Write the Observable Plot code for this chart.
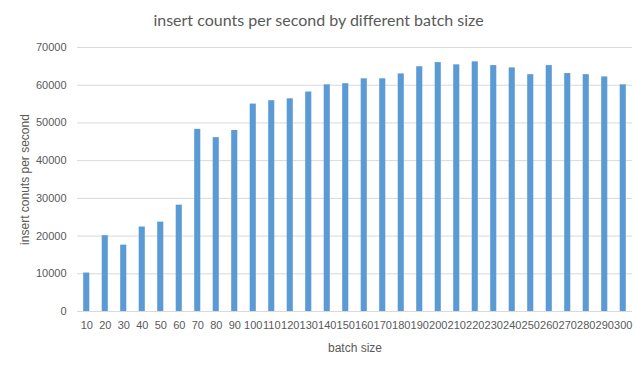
<!DOCTYPE html>
<html><head><meta charset="utf-8">
<script src="https://cdn.jsdelivr.net/npm/d3@7"></script>
<script src="https://cdn.jsdelivr.net/npm/@observablehq/plot@0.6"></script>
<style>
body{margin:0;background:#fff;width:637px;height:366px;overflow:hidden;font-family:"Liberation Sans",sans-serif;}
#title{height:38px;line-height:40px;text-align:center;font-size:16px;color:#595959;font-family:"Lato",sans-serif;}
g[aria-label="x-axis label"] text, g[aria-label="y-axis label"] text{font-size:12px;}
</style></head><body>
<div id="title">insert counts per second by different batch size</div>
<div id="chart"></div>
<script>
const batchSizes = [10,20,30,40,50,60,70,80,90,100,110,120,130,140,150,160,170,180,190,200,210,220,230,240,250,260,270,280,290,300];
const insertCounts = [10200,20100,17600,22400,23700,28200,48300,46100,48000,55000,55900,56400,58200,60100,60400,61700,61700,63000,64900,66000,65400,66200,65200,64600,62800,65200,63100,62800,62200,60100];
const yTicks = [0,10000,20000,30000,40000,50000,60000,70000];
const data = batchSizes.map((b,i)=>({batch:b, count:insertCounts[i]}));
const chart = Plot.plot({
  width:637, height:328,
  marginLeft:77, marginRight:5, marginTop:9, marginBottom:55,
  style:{fontFamily:"Liberation Sans, sans-serif", fontSize:"11px", color:"#595959", background:"#fff"},
  x:{domain:batchSizes, padding:0, round:false, label:"batch size", labelAnchor:"center", labelOffset:40, tickSize:0, tickPadding:10},
  y:{domain:[0,70000], ticks:yTicks, label:"insert conuts per second", labelAnchor:"center", labelOffset:57, tickSize:0, tickPadding:11, tickFormat:d=>String(d), labelArrow:"none"},
  marks:[
    Plot.gridY(yTicks,{stroke:"#d9d9d9", strokeOpacity:1}),
    Plot.barY(data,{x:"batch", y:"count", fill:"#5b9bd5", insetLeft:6.2, insetRight:6.2}),
    Plot.ruleY([0],{stroke:"#d9d9d9"})
  ]
});
document.getElementById("chart").appendChild(chart);
</script></body></html>
